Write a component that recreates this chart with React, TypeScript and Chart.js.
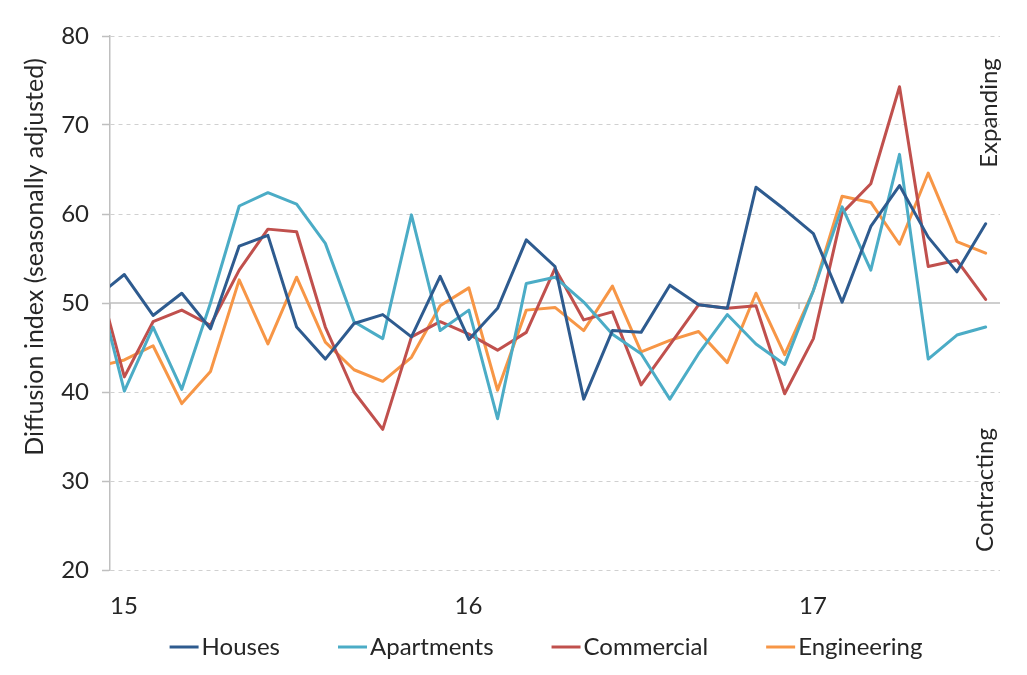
import React, { useEffect, useRef } from "react";
import { Chart, registerables } from "chart.js";

Chart.register(...registerables);

// Months counted from Jan 2015 (index 0); first value is Dec 2014 (index -1, clipped at the axis)
const firstMonthIndex = -1;
const yearTickMonths = [0, 12, 24];
const yearLabels = ["15", "16", "17"];
const yTicks = [20, 30, 40, 50, 60, 70, 80];

const seriesNames = ["Houses", "Apartments", "Commercial", "Engineering"];
const seriesColors = ["#2E5B8F", "#4BACC6", "#C0504D", "#F79646"];

const houses = [50.6, 53.2, 48.6, 51.1, 47.1, 56.4, 57.6, 47.3, 43.7, 47.7, 48.7, 46.2,
  53.0, 45.9, 49.4, 57.1, 54.1, 39.2, 46.9, 46.7, 52.0, 49.8,
  49.4, 63.0, 60.5, 57.8, 50.1, 58.6, 63.2, 57.4, 53.5, 58.9];
const apartments = [52.9, 40.1, 47.3, 40.3, 50.0, 60.9, 62.4, 61.1, 56.7, 47.9, 46.0, 59.9,
  46.9, 49.2, 37.0, 52.2, 52.9, 50.1, 46.5, 44.3, 39.2, 44.3,
  48.7, 45.4, 43.1, 51.4, 60.8, 53.7, 66.7, 43.7, 46.4, 47.3];
const commercial = [53.7, 41.7, 47.9, 49.2, 47.5, 53.7, 58.3, 58.0, 47.3, 40.0, 35.8, 46.2,
  47.9, 46.5, 44.7, 46.7, 53.9, 48.1, 49.0, 40.8, 45.3, 49.8,
  49.4, 49.7, 39.8, 46.0, 60.1, 63.4, 74.3, 54.1, 54.8, 50.4];
const engineering = [42.8, 43.6, 45.2, 38.7, 42.3, 52.6, 45.4, 52.9, 45.6, 42.5, 41.2, 43.9,
  49.7, 51.7, 40.2, 49.2, 49.5, 46.9, 51.9, 44.5, 45.8, 46.8,
  43.3, 51.1, 44.2, 51.4, 62.0, 61.3, 56.6, 64.6, 56.9, 55.6];

const seriesValues = [houses, apartments, commercial, engineering];

const FONT = "Lato, 'Open Sans', sans-serif";
const TEXT = "#262626";
const FS = 24;

const toPoints = (vals: number[]) =>
  vals.map((v, i) => ({ x: firstMonthIndex + i + 0.5, y: v }));

const decorations = {
  id: "decorations",
  beforeDatasetsDraw(chart: any) {
    const { ctx, chartArea, scales } = chart;
    const xs = scales.x;
    const ys = scales.y;
    const y50 = ys.getPixelForValue(50);
    ctx.save();
    ctx.strokeStyle = "#BFBFBF";
    ctx.lineWidth = 1.5;
    ctx.setLineDash([]);
    ctx.beginPath();
    ctx.moveTo(chartArea.left, y50);
    ctx.lineTo(chartArea.right, y50);
    yearTickMonths.forEach((m) => {
      const px = xs.getPixelForValue(m);
      ctx.moveTo(px, y50);
      ctx.lineTo(px, y50 + 6);
    });
    ctx.stroke();
    ctx.restore();
  },
  afterDraw(chart: any) {
    const { ctx, chartArea } = chart;
    ctx.save();
    ctx.fillStyle = TEXT;
    ctx.textAlign = "center";
    ctx.textBaseline = "middle";
    // y title
    ctx.font = `25px ${FONT}`;
    ctx.save();
    ctx.translate(35, 257);
    ctx.rotate(-Math.PI / 2);
    ctx.fillText("Diffusion index (seasonally adjusted)", 0, 0);
    ctx.restore();
    // side labels
    ctx.font = `${FS}px ${FONT}`;
    ctx.save();
    ctx.translate(989, 113);
    ctx.rotate(-Math.PI / 2);
    ctx.fillText("Expanding", 0, 0);
    ctx.restore();
    ctx.save();
    ctx.translate(985, 490);
    ctx.rotate(-Math.PI / 2);
    ctx.fillText("Contracting", 0, 0);
    ctx.restore();

    // legend
    const markerW = 29;
    const gapText = 3;
    const gapItem = 58;
    ctx.font = `${FS}px ${FONT}`;
    const items = chart.data.datasets.map((ds: any) => ({
      label: ds.label,
      color: ds.borderColor,
      w: markerW + gapText + ctx.measureText(ds.label).width,
    }));
    const total = items.reduce((s: number, it: any) => s + it.w, 0) + gapItem * (items.length - 1);
    let x = (chartArea.left + chartArea.right) / 2 - 9 - total / 2;
    const y = 647;
    ctx.textAlign = "left";
    items.forEach((it: any) => {
      ctx.strokeStyle = it.color;
      ctx.lineWidth = 3;
      ctx.beginPath();
      ctx.moveTo(x, y);
      ctx.lineTo(x + markerW, y);
      ctx.stroke();
      ctx.fillStyle = TEXT;
      ctx.fillText(it.label, x + markerW + gapText, y);
      x += it.w + gapItem;
    });
    ctx.restore();
  },
};

export default function App() {
  const ref = useRef<HTMLCanvasElement | null>(null);

  useEffect(() => {
    document.body.style.margin = "0";
    const canvas = ref.current;
    if (!canvas) return;
    const chart = new Chart(canvas, {
      type: "line",
      data: {
        datasets: seriesNames.map((name, k) => ({
          label: name,
          data: toPoints(seriesValues[k]),
          borderColor: seriesColors[k],
          backgroundColor: seriesColors[k],
          borderWidth: 3,
          pointRadius: 0,
          tension: 0,
          fill: false,
        })),
      },
      options: {
        animation: false,
        responsive: false,
        devicePixelRatio: 1,
        layout: { padding: { left: 0, right: 27, top: 36, bottom: 0 } },
        plugins: {
          legend: { display: false },
          tooltip: { enabled: false },
        },
        elements: { line: { borderJoinStyle: "round", borderCapStyle: "round" } },
        scales: {
          x: {
            type: "linear",
            min: 0,
            max: 31,
            afterBuildTicks: (scale: any) => {
              scale.ticks = yearTickMonths.map((v) => ({ value: v }));
            },
            afterFit: (scale: any) => {
              scale.height = 105;
            },
            grid: { display: false },
            border: { display: false },
            ticks: {
              align: "start",
              padding: 14,
              autoSkip: false,
              maxRotation: 0,
              color: TEXT,
              font: { family: FONT, size: FS },
              callback: (v: any) => {
                const idx = yearTickMonths.indexOf(Number(v));
                return idx >= 0 ? yearLabels[idx] : "";
              },
            },
          },
          y: {
            min: 20,
            max: 80,
            afterBuildTicks: (scale: any) => {
              scale.ticks = yTicks.map((v) => ({ value: v }));
            },
            afterFit: (scale: any) => {
              scale.width = 110;
            },
            grid: {
              color: (c: any) => (c.tick && c.tick.value === 50 ? "rgba(0,0,0,0)" : "#D0D0D0"),
              lineWidth: 1,
              drawTicks: true,
              tickLength: 8,
              tickColor: "#BFBFBF",
              tickBorderDash: [],
              tickWidth: 1.5,
            },
            border: { display: true, color: "#BFBFBF", width: 1.5, dash: [4, 4] },
            ticks: {
              padding: 13,
              color: TEXT,
              font: { family: FONT, size: FS },
            },
          },
        },
      } as any,
      plugins: [decorations],
    });
    return () => chart.destroy();
  }, []);

  return (
    <div style={{ position: "fixed", left: 0, top: 0, width: 1027, height: 675, background: "#fff" }}>
      <canvas ref={ref} width={1027} height={675} style={{ width: 1027, height: 675 }} />
    </div>
  );
}
